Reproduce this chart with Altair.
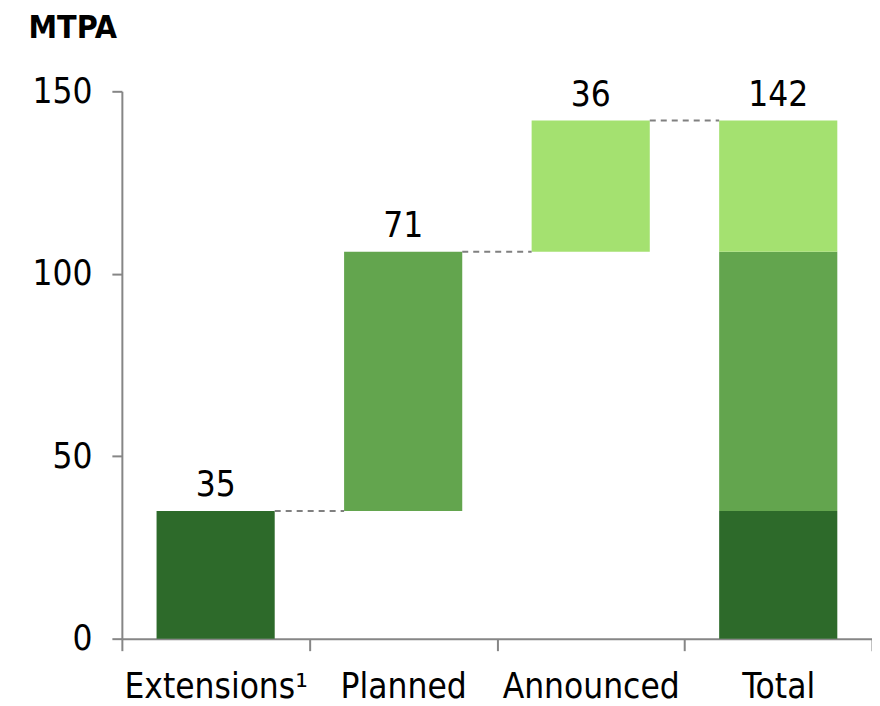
import altair as alt
import pandas as pd

categories = ["Extensions¹", "Planned", "Announced", "Total"]
steps = ["Extensions¹", "Planned", "Announced"]
step_values = [35, 71, 36]
colors = ["#2D6A2A", "#63A54E", "#A4E170"]
total_value = 142

FONT = "DejaVu Sans Condensed"

# build waterfall segments
rows = []
level = 0
for name, v, c in zip(steps, step_values, colors):
    rows.append({"cat": name, "start": level, "end": level + v, "color": c})
    rows.append({"cat": "Total", "start": level, "end": level + v, "color": c})
    level += v
bars = pd.DataFrame(rows)

labels = pd.DataFrame({
    "cat": categories,
    "top": [35, 106, 142, 142],
    "text": [str(v) for v in step_values] + [str(total_value)],
})

conn = pd.DataFrame({
    "cat": categories[:-1],
    "next": categories[1:],
    "level": [35, 106, 142],
})

xscale = alt.Scale(domain=categories, paddingInner=0, paddingOuter=0)
yscale = alt.Scale(domain=[0, 150])

x_axis = alt.Axis(title=None, tickBand="extent", labelAngle=0, labelFont=FONT,
                  labelFontSize=35, labelColor="#000000", labelPadding=19,
                  labelLimit=400,
                  domainColor="#868686", domainWidth=2, tickColor="#868686",
                  tickWidth=2, tickSize=12)
y_axis = alt.Axis(title="MTPA", titleAngle=0, titleAlign="left", titleX=-94,
                  titleY=-54, titleFont=FONT, titleFontSize=32, titleFontWeight="bold",
                  titleColor="#000000", titleBaseline="alphabetic",
                  values=[0, 50, 100, 150], grid=False, labelFont=FONT,
                  labelFontSize=35, labelColor="#000000", labelPadding=20,
                  domainColor="#868686", domainWidth=2, tickColor="#868686",
                  tickWidth=2, tickSize=10)

bar_layer = alt.Chart(bars).mark_bar(width={"band": 0.63}).encode(
    x=alt.X("cat:N", scale=xscale, axis=x_axis, sort=categories),
    y=alt.Y("start:Q", scale=yscale, axis=y_axis),
    y2="end:Q",
    color=alt.Color("color:N", scale=None),
)

conn_layer = alt.Chart(conn).mark_rule(color="#808080", strokeWidth=2,
                                      strokeDash=[6, 5]).encode(
    x=alt.X("cat:N", scale=xscale, sort=categories, bandPosition=0.815),
    x2=alt.X2("next:N", bandPosition=0.185),
    y=alt.Y("level:Q", scale=yscale),
)

text_layer = alt.Chart(labels).mark_text(font=FONT, fontSize=35, dy=-8,
                                        baseline="bottom", color="#000000").encode(
    x=alt.X("cat:N", scale=xscale, sort=categories),
    y=alt.Y("top:Q", scale=yscale),
    text="text:N",
)

chart = alt.layer(bar_layer, conn_layer, text_layer).properties(
    width=751, height=548,
    autosize=alt.AutoSizeParams(type="none"),
    padding={"left": 114, "top": 83, "right": 0, "bottom": 66},
).configure(background="#ffffff", view=alt.ViewConfig(stroke=None))

chart.save("out.html", embed_options={"renderer": "svg", "actions": False})
